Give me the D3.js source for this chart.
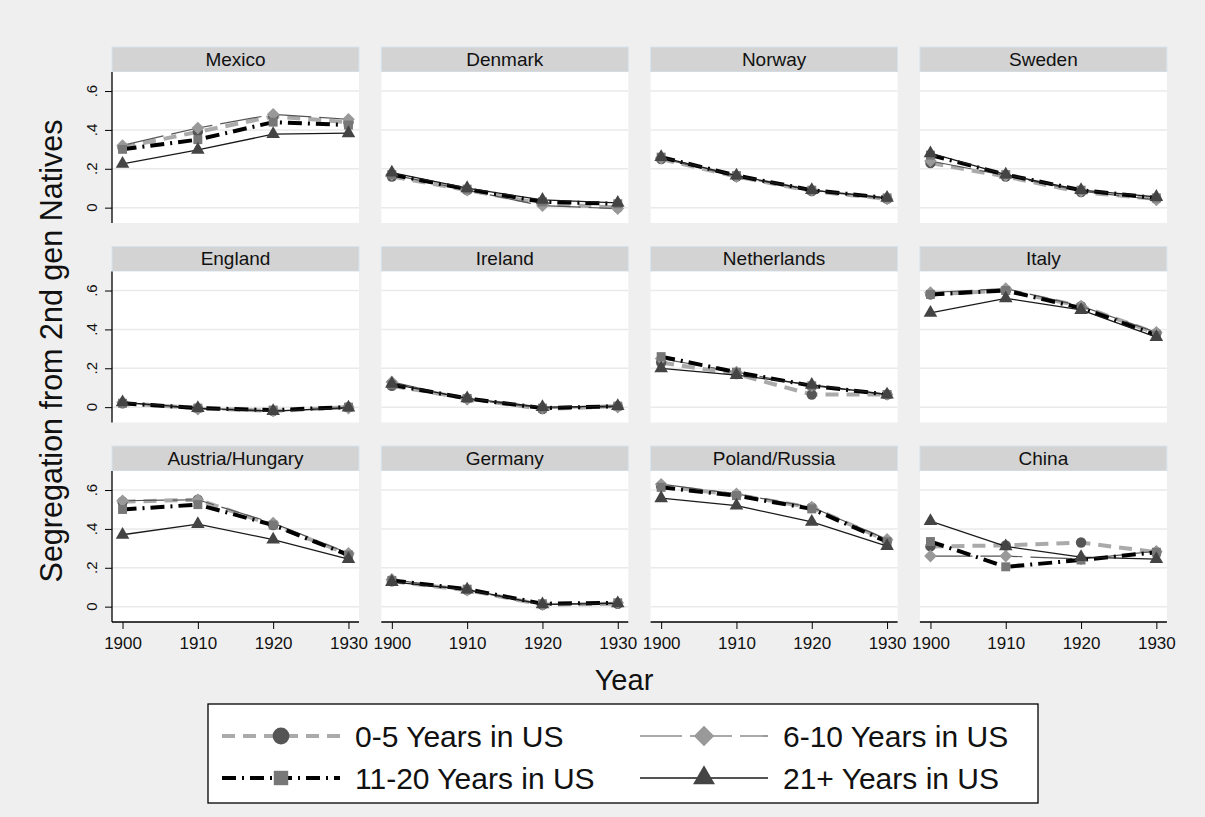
<!DOCTYPE html>
<meta charset="utf-8">
<style>
body { margin: 0; background: #efefef; }
text { font-family: Arial, "Liberation Sans", sans-serif; fill: #111; }
</style>
<body>
<script src="https://d3js.org/d3.v7.min.js"></script>
<script>

var w = 1205, h = 817;

// data
var years = [1900, 1910, 1920, 1930];
var countries = ["Mexico", "Denmark", "Norway", "Sweden",
                 "England", "Ireland", "Netherlands", "Italy",
                 "Austria/Hungary", "Germany", "Poland/Russia", "China"];
var yTicks = [0, 0.2, 0.4, 0.6];
var yTickLabels = ["0", ".2", ".4", ".6"];

var yrs0_5 = [
  [0.31, 0.39, 0.47, 0.44], [0.16, 0.09, 0.02, 0.00], [0.25, 0.16, 0.085, 0.045], [0.23, 0.16, 0.08, 0.045],
  [0.02, -0.005, -0.02, 0.00], [0.11, 0.045, -0.01, 0.005], [0.23, 0.17, 0.065, 0.065], [0.58, 0.60, 0.52, 0.38],
  [0.54, 0.55, 0.42, 0.27], [0.13, 0.085, 0.01, 0.015], [0.62, 0.575, 0.51, 0.34], [0.31, 0.315, 0.33, 0.28]
];
var yrs6_10 = [
  [0.32, 0.41, 0.48, 0.455], [0.17, 0.09, 0.01, -0.005], [0.255, 0.16, 0.09, 0.045], [0.24, 0.165, 0.085, 0.04],
  [0.025, -0.01, -0.02, -0.005], [0.13, 0.04, -0.005, 0.00], [0.25, 0.18, 0.11, 0.065], [0.59, 0.61, 0.52, 0.385],
  [0.545, 0.55, 0.43, 0.275], [0.14, 0.085, 0.01, 0.02], [0.63, 0.58, 0.512, 0.346], [0.26, 0.26, 0.245, 0.285]
];
var yrs11_20 = [
  [0.30, 0.35, 0.44, 0.425], [0.17, 0.095, 0.03, 0.02], [0.26, 0.165, 0.09, 0.05], [0.27, 0.17, 0.09, 0.05],
  [0.02, -0.005, -0.015, 0.00], [0.115, 0.045, -0.005, 0.005], [0.26, 0.18, 0.11, 0.065], [0.58, 0.60, 0.51, 0.37],
  [0.50, 0.525, 0.42, 0.265], [0.135, 0.09, 0.015, 0.02], [0.614, 0.571, 0.503, 0.334], [0.335, 0.205, 0.24, 0.28]
];
var yrs21 = [
  [0.225, 0.297, 0.378, 0.383], [0.18, 0.10, 0.04, 0.025], [0.26, 0.165, 0.09, 0.05], [0.28, 0.17, 0.09, 0.055],
  [0.025, -0.005, -0.02, -0.002], [0.12, 0.045, 0.00, 0.005], [0.20, 0.165, 0.115, 0.065], [0.485, 0.56, 0.50, 0.36],
  [0.37, 0.425, 0.345, 0.245], [0.127, 0.088, 0.012, 0.017], [0.558, 0.52, 0.436, 0.312], [0.44, 0.31, 0.255, 0.245]
];
var seriesLabels = ["0-5 Years in US", "6-10 Years in US", "11-20 Years in US", "21+ Years in US"];

// styles for each series (diamond = square turned 45 degrees)
var styles = [
  {values: yrs0_5,   stroke: "#aaaaaa", width: 4,   dash: "13,8",     sym: d3.symbolCircle,   size: 85, rot: 0,  fill: "#555555"},
  {values: yrs6_10,  stroke: "#555555", width: 1.2, dash: "42,8",     sym: d3.symbolSquare,   size: 80, rot: 45, fill: "#999999"},
  {values: yrs11_20, stroke: "#000000", width: 4,   dash: "14,6,2,6", sym: d3.symbolSquare,   size: 80, rot: 0,  fill: "#777777"},
  {values: yrs21,    stroke: "#1a1a1a", width: 1.3, dash: null,       sym: d3.symbolTriangle, size: 80, rot: 0,  fill: "#444444"}
];

var svg = d3.select("body").append("svg")
    .attr("width", w)
    .attr("height", h);

svg.append("rect").attr("width", w).attr("height", h).attr("fill", "#efefef");

// panel grid
var left0 = 112, colStep = 269.3, pw = 247;
var top0 = 47, rowStep = 199.5, stripH = 25, ph = 151;

var x = d3.scaleLinear().domain([1898.6, 1931.4]).range([0, pw]);
var y = d3.scaleLinear().domain([-0.079, 0.698]).range([ph, 0]);

var line = d3.line()
    .x(function(d) { return x(d[0]); })
    .y(function(d) { return y(d[1]); });

countries.forEach(function(c, i) {
    var col = i % 4, row = Math.floor(i / 4);
    var px = left0 + col * colStep;
    var sy = top0 + row * rowStep;

    // strip title
    svg.append("rect")
        .attr("x", px).attr("y", sy)
        .attr("width", pw).attr("height", stripH)
        .attr("fill", "#d3d3d3")
        .attr("stroke", "#d6e4ef").attr("stroke-width", 1);
    svg.append("text")
        .attr("x", px + pw / 2).attr("y", sy + 18.5)
        .attr("text-anchor", "middle")
        .attr("font-size", "19px")
        .text(c);

    var g = svg.append("g").attr("transform", "translate(" + px + "," + (sy + stripH) + ")");

    g.append("rect").attr("width", pw).attr("height", ph).attr("fill", "#ffffff");

    // grid lines
    g.selectAll(".grid").data(yTicks).enter().append("line")
        .attr("x1", 0).attr("x2", pw)
        .attr("y1", function(d) { return y(d); })
        .attr("y2", function(d) { return y(d); })
        .attr("stroke", "#eaeaea").attr("stroke-width", 1.5);

    // y axis only on first column
    if (col == 0) {
        var ya = d3.axisLeft(y).tickValues(yTicks).tickSize(7).tickFormat("");
        var yg = g.append("g").call(ya);
        yg.select(".domain").remove();
        yg.selectAll("line").attr("stroke", "#000");
        g.append("line").attr("x1", 0).attr("x2", 0).attr("y1", 0).attr("y2", ph)
            .attr("stroke", "#000").attr("stroke-width", 1.3);
        g.selectAll(".ylab").data(yTicks).enter().append("text")
            .attr("transform", function(d) { return "translate(-15," + y(d) + ") rotate(-90)"; })
            .attr("text-anchor", "middle")
            .attr("font-size", "15px")
            .text(function(d, j) { return yTickLabels[j]; });
    }

    // x axis only on bottom row
    if (row == 2) {
        var xa = d3.axisBottom(x).tickValues(years).tickSize(7).tickFormat(d3.format("d"));
        var xg = g.append("g").attr("transform", "translate(0," + ph + ")").call(xa);
        xg.select(".domain").remove();
        xg.selectAll("line").attr("stroke", "#000");
        xg.selectAll("text")
            .attr("font-size", "17px")
            .attr("font-family", "Arial, 'Liberation Sans', sans-serif")
            .attr("fill", "#111")
            .attr("dy", "1.0em");
        g.append("line").attr("x1", 0).attr("x2", pw).attr("y1", ph).attr("y2", ph)
            .attr("stroke", "#000").attr("stroke-width", 1.3);
    }

    // series
    styles.forEach(function(s) {
        var pts = years.map(function(yr, k) { return [yr, s.values[i][k]]; });
        g.append("path")
            .attr("d", line(pts))
            .attr("fill", "none")
            .attr("stroke", s.stroke)
            .attr("stroke-width", s.width)
            .attr("stroke-dasharray", s.dash);
        g.selectAll(null).data(pts).enter().append("path")
            .attr("d", d3.symbol().type(s.sym).size(s.size))
            .attr("transform", function(d) { return "translate(" + x(d[0]) + "," + y(d[1]) + ") rotate(" + s.rot + ")"; })
            .attr("fill", s.fill);
    });
});

// axis titles
svg.append("text")
    .attr("x", 624).attr("y", 690)
    .attr("text-anchor", "middle")
    .attr("font-size", "29px")
    .text("Year");

svg.append("text")
    .attr("transform", "translate(62,351) rotate(-90)")
    .attr("text-anchor", "middle")
    .attr("font-size", "30.5px")
    .text("Segregation from 2nd gen Natives");

// legend
var leg = svg.append("g");
leg.append("rect")
    .attr("x", 208).attr("y", 704)
    .attr("width", 830).attr("height", 99)
    .attr("fill", "#ffffff").attr("stroke", "#000").attr("stroke-width", 1.3);

var legPos = [[222, 736], [640, 736], [222, 778], [640, 778]];
styles.forEach(function(s, k) {
    var lx = legPos[k][0], ly = legPos[k][1];
    var len = k % 2 == 0 ? 118 : 128;
    leg.append("line")
        .attr("x1", lx).attr("x2", lx + len)
        .attr("y1", ly).attr("y2", ly)
        .attr("stroke", s.stroke)
        .attr("stroke-width", s.width)
        .attr("stroke-dasharray", s.dash);
    leg.append("path")
        .attr("d", d3.symbol().type(s.sym).size(s.size * 2.6))
        .attr("transform", "translate(" + (lx + len / 2) + "," + ly + ") rotate(" + s.rot + ")")
        .attr("fill", s.fill);
    leg.append("text")
        .attr("x", lx + len + 15).attr("y", ly + 10.5)
        .attr("font-size", "30px")
        .text(seriesLabels[k]);
});

</script>
</body>
